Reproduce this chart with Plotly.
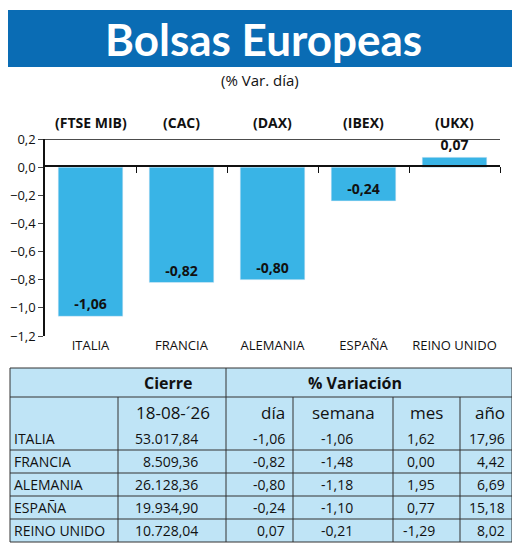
import plotly.graph_objects as go

paises = ["ITALIA", "FRANCIA", "ALEMANIA", "ESPAÑA", "REINO UNIDO"]
indices = ["(FTSE MIB)", "(CAC)", "(DAX)", "(IBEX)", "(UKX)"]
var_dia = [-1.06, -0.82, -0.80, -0.24, 0.07]

cierre = ["53.017,84", "8.509,36", "26.128,36", "19.934,90", "10.728,04"]
dia_txt = ["-1,06", "-0,82", "-0,80", "-0,24", "0,07"]
semana = ["-1,06", "-1,48", "-1,18", "-1,10", "-0,21"]
mes = ["1,62", "0,00", "1,95", "0,77", "-1,29"]
anio = ["17,96", "4,42", "6,69", "15,18", "8,02"]
fecha = "18-08-´26"
col_heads = ["", fecha, "día", "semana", "mes", "año"]

W, H = 520, 547
OFF = 8  # page body margin
def px(x): return (x - OFF) / W
def py(y): return 1 - (y - OFF) / H
def ax(x): return x / W  # axis domains don't need the shift

BLUE_BAR = "#39b4e6"
TABLE_BG = "#bfe4f6"
FONT = "Open Sans"
INK = "#111"

fig = go.Figure()

fig.add_trace(go.Bar(
    x=paises, y=var_dia, marker_color=BLUE_BAR,
    text=[f"{v:.2f}".replace(".", ",") for v in var_dia],
    textposition=["inside" if v < 0 else "outside" for v in var_dia], insidetextanchor="end",
    textfont=dict(size=14, color=INK, family=FONT, weight="bold"),
    cliponaxis=False,
))
fig.add_trace(go.Scatter(x=[None], y=[None], xaxis="x2", yaxis="y", showlegend=False))

def line(x0, y0, x1, y1, w=1):
    return dict(type="line", xref="paper", yref="paper", x0=px(x0), x1=px(x1),
                y0=py(y0), y1=py(y1), line=dict(color="#333", width=w))

def note(text, x, y, xanchor="center", size=14, bold=False, color=INK, family=FONT):
    return dict(text=text, x=px(x), y=py(y), xref="paper", yref="paper", showarrow=False,
                xanchor=xanchor, yanchor="middle",
                font=dict(size=size, color=color, family=family, weight="bold" if bold else "normal"))

shapes = [
    dict(type="rect", xref="paper", yref="paper", x0=px(8), x1=px(517), y0=py(67), y1=py(10),
         fillcolor="#0a6cb4", line_width=0, layer="below"),
    dict(type="line", xref="x2", yref="y", x0=0, x1=5, y0=0.2, y1=0.2,
         line=dict(color=INK, width=1.5)),
    dict(type="rect", xref="paper", yref="paper", x0=px(10), x1=px(512), y0=py(542), y1=py(368),
         fillcolor=TABLE_BG, line=dict(color="#333", width=1), layer="below"),
    line(10, 397, 512, 397),
    line(226, 368, 226, 542),
]

# table geometry
row_top = 427
row_h = 23
for e in [118, 293, 393, 460]:
    shapes.append(line(e, 397, e, 542))
for i in range(len(paises) - 1):
    shapes.append(line(10, row_top + row_h * (i + 1), 512, row_top + row_h * (i + 1)))

annotations = [
    note("Bolsas Europeas", 263, 39, size=44, bold=True, color="white", family="Lato"),
    note("(% Var. día)", 260, 80, size=15),
    note("Cierre", 168, 383, size=16, bold=True),
    note("% Variación", 355, 383, size=16, bold=True),
]
for i, idx in enumerate(indices):
    annotations.append(dict(text=idx, x=paises[i], y=py(122), xref="x", yref="paper", showarrow=False,
                            yanchor="middle", font=dict(size=14, color=INK, family=FONT, weight="bold")))

head_pos = [(12, "left"), (173, "center"), (287, "right"), (343, "center"), (426, "center"), (507, "right")]
for (x, a), t in zip(head_pos, col_heads):
    if t:
        annotations.append(note(t, x, 412, xanchor=a, size=17))

cell_pos = [(12, "left"), (200, "right"), (287, "right"), (355, "right"), (437, "right"), (507, "right")]
columns = [paises, cierre, dia_txt, semana, mes, anio]
for (x, a), col in zip(cell_pos, columns):
    for i, t in enumerate(col):
        annotations.append(note(t, x, row_top + row_h * i + 11, xanchor=a, size=14))

fig.update_layout(
    width=W, height=H, margin=dict(l=0, r=0, t=0, b=0, pad=0, autoexpand=False),
    paper_bgcolor="white", plot_bgcolor="rgba(0,0,0,0)",
    separators=",.", showlegend=False, bargap=0.29,
    shapes=shapes, annotations=annotations,
    xaxis=dict(domain=[ax(37), ax(492)], showline=False, ticks="", showgrid=False, automargin=False,
               tickfont=dict(size=13, color=INK, family=FONT), anchor="y"),
    xaxis2=dict(domain=[ax(37), ax(492)], range=[0, 5], overlaying="x", anchor="free",
                position=py(166), showline=True, linecolor=INK, linewidth=1.5, automargin=False,
                ticks="outside", ticklen=6, tickcolor=INK, tickvals=[1, 2, 3, 4, 5],
                showticklabels=False, showgrid=False, zeroline=False),
    yaxis=dict(domain=[py(336), py(139)], range=[-1.2, 0.2], dtick=0.2, tickformat=".1f",
               showline=True, linecolor=INK, linewidth=1.5, ticks="outside", ticklen=5, automargin=False,
               showgrid=False, zeroline=False, tickfont=dict(size=13, color=INK, family=FONT)),
)

fig.write_html("out.html")
